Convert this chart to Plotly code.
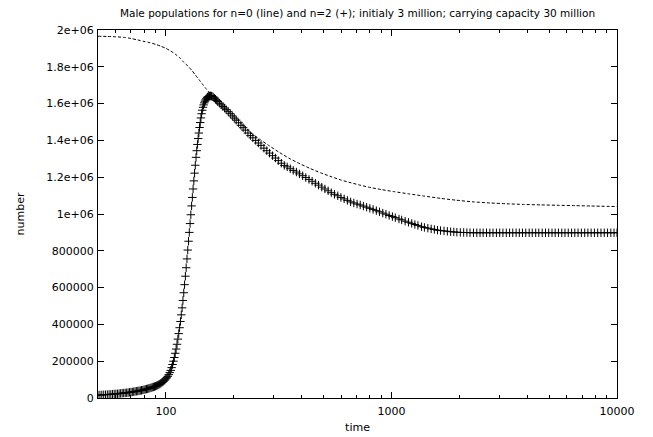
import plotly.graph_objects as go

# ---------------- data ----------------
# n=2 population (+ markers)
time_n2 = [
    50, 51, 52, 53, 54, 55, 56, 57, 58, 59, 60, 61, 62, 63, 64, 65, 66, 67, 68, 69,
    70, 71, 72, 73, 74, 75, 76, 77, 78, 79, 80, 81, 82, 83, 84, 85, 86, 87, 88, 89,
    90, 91, 92, 93, 94, 95, 96, 97, 98, 99, 100, 101, 102, 103, 104, 105, 106, 107, 108, 109,
    110, 111, 112, 113, 114, 115, 116, 117, 118, 119, 120, 121, 122, 123, 124, 125, 126, 127, 128, 129,
    130, 131, 132, 133, 134, 135, 136, 137, 138, 139, 140, 141, 142, 143, 144, 145, 146, 147, 148, 149,
    150, 151, 152, 153, 154, 155, 156, 157, 158, 159, 160,
    162, 164, 166, 168, 170, 173, 176, 179, 182, 185, 189, 193, 197, 201, 205, 210, 215, 220, 225, 231,
    237, 243, 250, 257, 264, 272, 280, 288, 297, 306, 315, 325, 335, 345, 356, 367, 379, 391, 404, 417,
    431, 445, 460, 475, 491, 507, 524, 541, 559, 578, 597, 617, 638, 659, 681, 704, 727, 751, 776, 802,
    829, 857, 885, 915, 945, 977, 1010, 1040, 1080, 1110, 1150, 1190, 1230, 1270, 1310, 1360, 1400, 1450, 1500, 1550,
    1600, 1650, 1710, 1770, 1830, 1890, 1950, 2020, 2090, 2160, 2230, 2310, 2390, 2470, 2550, 2640, 2730, 2820, 2920, 3020,
    3120, 3230, 3340, 3450, 3570, 3690, 3810, 3940, 4080, 4210, 4360, 4500, 4660, 4820, 4980, 5150, 5320, 5500, 5690, 5880,
    6080, 6290, 6500, 6720, 6950, 7190, 7430, 7680, 7940, 8210, 8490, 8780, 9080, 9390, 9700, 10000,
]
males_n2 = [
    16000, 16500, 17000, 17500, 18000, 18500, 19500, 20000, 21000, 22000, 22500, 23000, 24000, 25000, 26000, 27000, 27500, 28500, 29500, 31000,
    32000, 33000, 34000, 35500, 36500, 38000, 39000, 40500, 42000, 43500, 45000, 47000, 48500, 50000, 52000, 54000, 56000, 58000, 60000, 62000,
    64000, 67000, 70000, 73000, 76000, 80000, 84000, 88000, 93000, 98000, 104000, 110000, 118000, 127000, 138000, 150000, 165000, 182000, 200000, 220000,
    243000, 266000, 292000, 320000, 350000, 382000, 416000, 452000, 490000, 530000, 572000, 616000, 662000, 708000, 756000, 804000, 852000, 900000, 948000, 996000,
    1044000, 1090000, 1136000, 1180000, 1222000, 1265000, 1308000, 1344000, 1378000, 1410000, 1440000, 1470000, 1497000, 1522000, 1545000, 1564000, 1580000, 1593000, 1604000, 1613000,
    1620000, 1626000, 1631000, 1635000, 1638000, 1640000, 1641000, 1641500, 1641500, 1641000, 1640000,
    1636000, 1630000, 1624000, 1617000, 1611000, 1602000, 1593000, 1584000, 1576000, 1567000, 1556000, 1545000, 1533000, 1521000, 1510000, 1496000, 1482000, 1469000, 1456000, 1440000,
    1426000, 1414000, 1400000, 1386000, 1373000, 1358000, 1344000, 1331000, 1317000, 1304000, 1290000, 1276000, 1264000, 1256000, 1246000, 1237000, 1228000, 1218000, 1208000, 1198000,
    1188000, 1178000, 1167000, 1157000, 1146000, 1136000, 1126000, 1116000, 1107000, 1099000, 1090000, 1082000, 1074000, 1066000, 1060000, 1054000, 1049000, 1043000, 1037000, 1031000,
    1025000, 1018000, 1012000, 1005000, 999000, 992000, 986000, 980000, 973000, 968000, 961000, 955000, 949000, 943000, 938000, 931000, 927000, 923000, 919000, 916000,
    912000, 910000, 908000, 906000, 904000, 902500, 901000, 900000, 899500, 899000, 898500, 898000, 898000, 898000, 898000, 898000, 898000, 898000, 898000, 898000,
    898000, 898000, 898000, 898000, 898000, 898000, 898000, 898000, 898000, 898000, 898000, 898000, 898000, 898000, 898000, 898000, 898000, 898000, 898000, 898000,
    898000, 898000, 898000, 898000, 898000, 898000, 898000, 898000, 898000, 898000, 898000, 898000, 898000, 898000, 898000, 898000,
]

# n=0 population (dashed line)
time_n0 = [
    50, 55, 60, 65, 70, 75, 80, 85, 90, 95, 100, 105, 110, 115, 120, 125, 130, 135, 140, 145,
    150, 155, 160, 170, 180, 190, 200, 215, 236, 260, 283, 320, 355, 393, 435, 485, 540, 600, 655, 720,
    790, 900, 1020, 1200, 1387, 1650, 1940, 2300, 2735, 3250, 3850, 4600, 5420, 6500, 7640, 10000,
]
males_n0 = [
    1966000, 1965000, 1963000, 1960000, 1954000, 1946000, 1938000, 1931000, 1922000, 1912000, 1900000, 1886000, 1869000, 1850000, 1825000, 1805000, 1782000, 1756000, 1731000, 1707000,
    1684000, 1663000, 1646000, 1615000, 1585000, 1557000, 1531000, 1493000, 1445000, 1407000, 1376000, 1333000, 1300000, 1273000, 1248000, 1224000, 1203000, 1184000, 1171000, 1158000,
    1146000, 1133000, 1122000, 1109000, 1098000, 1085000, 1075000, 1066000, 1060000, 1055500, 1052000, 1049500, 1047500, 1045500, 1043500, 1040500,
]

# ticks
y_tickvals = [0, 200000, 400000, 600000, 800000, 1000000, 1200000, 1400000, 1600000, 1800000, 2000000]
y_ticktext = ["0", "200000", "400000", "600000", "800000", "1e+06", "1.2e+06", "1.4e+06", "1.6e+06", "1.8e+06", "2e+06"]
x_tickvals = [100, 1000, 10000]
x_ticktext = ["100", "1000", "10000"]
x_minorvals = [60, 70, 80, 90, 200, 300, 400, 500, 600, 700, 800, 900,
               2000, 3000, 4000, 5000, 6000, 7000, 8000, 9000]

title_text = "Male populations for n=0 (line) and n=2 (+); initialy 3 million; carrying capacity 30 million"

# ---------------- figure ----------------
FONT = "DejaVu Sans, Liberation Sans, Arial, sans-serif"

fig = go.Figure()
fig.add_trace(go.Scatter(
    x=time_n0, y=males_n0, mode="lines",
    line=dict(color="black", width=1, dash="3px,2px", shape="spline", smoothing=0.6),
    showlegend=False, hoverinfo="skip",
))
fig.add_trace(go.Scatter(
    x=time_n2, y=males_n2, mode="markers",
    marker=dict(symbol="cross-thin", size=6, line=dict(color="black", width=1)),
    showlegend=False, hoverinfo="skip",
))

axis_common = dict(
    showline=True, linecolor="black", linewidth=1,
    ticks="inside", ticklen=6, tickcolor="black", tickwidth=1,
    mirror="allticks", showgrid=False, zeroline=False, automargin=False,
    tickfont=dict(family=FONT, size=11, color="black"),
)

fig.update_layout(
    width=653, height=437,
    margin=dict(l=98, r=36, t=30, b=39),
    paper_bgcolor="white", plot_bgcolor="white",
    font=dict(family=FONT, size=11, color="black"),
    title=dict(text=title_text, x=0.5475, xanchor="center", y=0.97, yanchor="middle",
               font=dict(family=FONT, size=10.5, color="black")),
    xaxis=dict(
        type="log", range=[1.69897, 4.0],
        tickmode="array", tickvals=x_tickvals, ticktext=x_ticktext,
        ticklabelstandoff=3,
        minor=dict(tickmode="array", tickvals=x_minorvals, ticks="inside", ticklen=3,
                   tickcolor="black", showgrid=False),
        title=dict(text="time", font=dict(family=FONT, size=11, color="black"), standoff=6),
        **axis_common,
    ),
    yaxis=dict(
        range=[0, 2000000],
        tickmode="array", tickvals=y_tickvals, ticktext=y_ticktext,
        ticklabelstandoff=1,
        title=dict(text="number", font=dict(family=FONT, size=11, color="black"), standoff=19),
        **axis_common,
    ),
)

fig.write_html("out.html")
